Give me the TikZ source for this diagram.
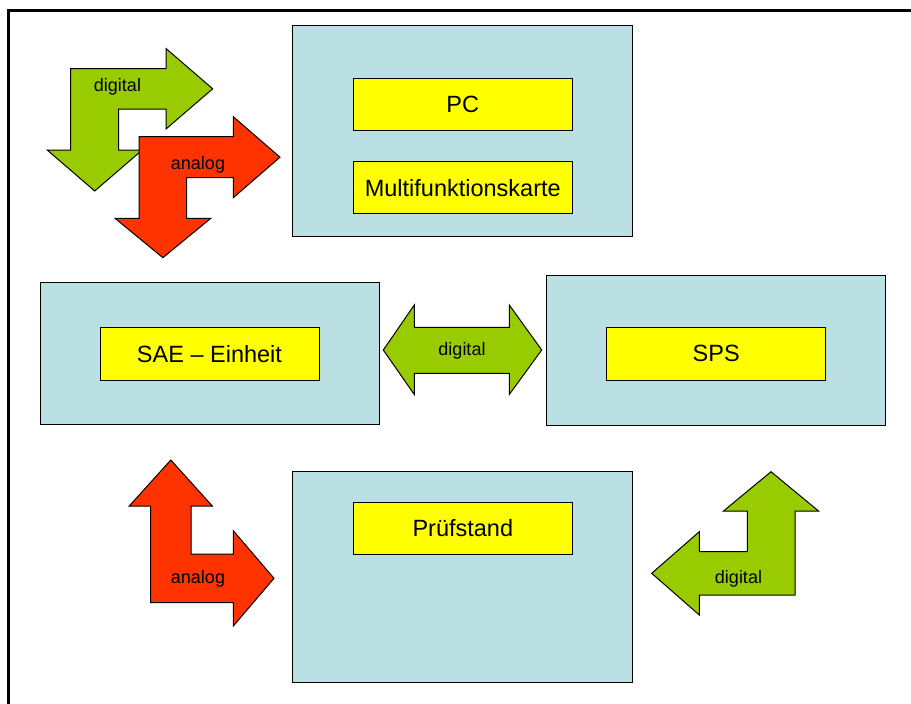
\documentclass[tikz,border=0pt]{standalone}
\usepackage{fontspec}
\setmainfont{Liberation Sans}
\usepackage{tikz}

\definecolor{boxblue}{HTML}{BBE0E3}
\definecolor{boxyellow}{HTML}{FFFF00}
\definecolor{arrgreen}{HTML}{99CC00}
\definecolor{arrred}{HTML}{FF3300}

\begin{document}
\begin{tikzpicture}[x=1pt, y=-1pt,
        bluebox/.style={draw=black, fill=boxblue, line width=1pt, inner sep=0pt},
        yellowbox/.style={draw=black, fill=boxyellow, line width=1pt, inner sep=0pt,
            minimum width=219pt, minimum height=52pt, font=\fontsize{23.5}{27}\selectfont},
        greenarrow/.style={draw=black, fill=arrgreen, line width=1pt, line join=miter},
        redarrow/.style={draw=black, fill=arrred, line width=1pt, line join=miter},
        arrlabel/.style={inner sep=0pt, font=\fontsize{18}{21}\selectfont}]
            \useasboundingbox (0,0) rectangle (911,704);
            \clip (0,0) rectangle (911,704);
            \fill[white] (0,0) rectangle (911,704);
            \draw[line width=3pt] (8,10) rectangle (960,760);

            % grey-blue blocks
            \node[bluebox, minimum width=340pt, minimum height=211pt] (pcbox) at (462.7,131.2) {};
            \node[bluebox, minimum width=339pt, minimum height=142pt] (saebox) at (209.7,353.8) {};
            \node[bluebox, minimum width=339.5pt, minimum height=150pt] (spsbox) at (715.8,350) {};
            \node[bluebox, minimum width=340pt, minimum height=211pt] (pruefbox) at (462.7,577) {};

            % yellow labels
            \node[yellowbox] (pc) at (462.8,104.5) {PC};
            \node[yellowbox] (karte) at (462.8,187.8) {Multifunktionskarte};
            \node[yellowbox, minimum height=53pt] (sae) at (209.5,353.7) {SAE – Einheit};
            \node[yellowbox, minimum height=53pt] (sps) at (716.2,353.8) {SPS};
            \node[yellowbox] (pruef) at (462.8,528) {Prüfstand};

            % block arrows
            \draw[greenarrow] (70.7,68.5) -- (166,68.5) -- (166,48.5) -- (212.7,88.8)
                -- (166,129) -- (166,109) -- (118.7,109) -- (118.7,150) -- (142.2,150)
                -- (94.7,191) -- (47.2,150) -- (70.7,150) -- cycle;
            \draw[redarrow] (139,136.7) -- (233.3,136.7) -- (233.3,116.7) -- (280,157.2)
                -- (233.3,197.7) -- (233.3,177.7) -- (186.7,177.7) -- (186.7,218.3)
                -- (210.8,218.3) -- (162.9,257.7) -- (115,218.3) -- (139,218.3) -- cycle;
            \draw[greenarrow] (383.3,350) -- (414.3,305) -- (414.3,327.3) -- (509.3,327.3)
                -- (509.3,305) -- (541.7,350) -- (509.3,394.5) -- (509.3,373.3)
                -- (414.3,373.3) -- (414.3,394.5) -- cycle;
            \draw[redarrow] (150.7,602.7) -- (150.7,506) -- (129.3,506) -- (170.8,460)
                -- (212.3,506) -- (191,506) -- (191,554) -- (233.3,554) -- (233.3,530.7)
                -- (274,578.3) -- (233.3,626) -- (233.3,602.7) -- cycle;
            \draw[greenarrow] (795,595) -- (699.3,595) -- (699.3,615) -- (651.7,573.3)
                -- (699.3,531.7) -- (699.3,551.7) -- (747.3,551.7) -- (747.3,511)
                -- (723.5,511) -- (771,471.7) -- (818.5,511) -- (795,511) -- cycle;

            % arrow labels
            \node[arrlabel] (lbl1) at (117.5,87) {digital};
            \node[arrlabel] (lbl2) at (198,165) {analog};
            \node[arrlabel] (lbl3) at (462,351) {digital};
            \node[arrlabel] (lbl4) at (198,578.5) {analog};
            \node[arrlabel] (lbl5) at (738.5,578.5) {digital};
        \end{tikzpicture}
\end{document}
